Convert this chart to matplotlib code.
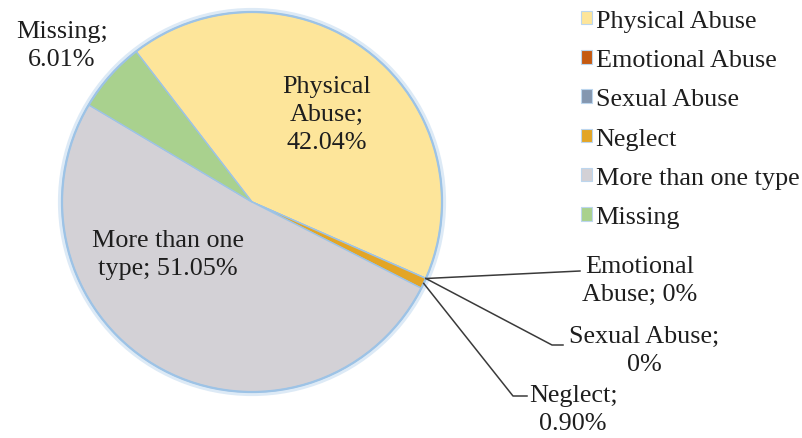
import numpy as np
import matplotlib
matplotlib.use('Agg')
from matplotlib import pyplot as plt
from matplotlib.patches import Circle

plt.rcParams['font.family'] = ['Liberation Serif', 'DejaVu Serif']

# data
categories = ['Physical Abuse', 'Emotional Abuse', 'Sexual Abuse', 'Neglect',
              'More than one type', 'Missing']
percents = [42.04, 0.0, 0.0, 0.90, 51.05, 6.01]
colors = ['#fde59a', '#c55a11', '#8497b0', '#e3a526', '#d3d1d6', '#a9d18e']

W, H = 802, 439
TXT = '#1e1e1e'


def py(y):
    # pixel row (top down) -> data y
    return H - y


def pct(v):
    if v == 0:
        return '0%'
    return '%.2f%%' % v


fig = plt.figure(figsize=(W / 100, H / 100), dpi=100)
ax = fig.add_axes([0, 0, 1, 1])

cx, cy, r = 252, py(203), 190
wedges, _ = ax.pie(percents, colors=colors, startangle=127.6, counterclock=False,
                   center=(cx, cy), radius=r, frame=True,
                   wedgeprops=dict(edgecolor='#9dc3e6', linewidth=1.0))
ax.add_patch(Circle((cx, cy), r + 2, fill=False, ec='#ddeaf6', lw=3, zorder=0))
ax.add_patch(Circle((cx, cy), r, fill=False, ec='#9dc3e6', lw=1.6, zorder=3))

fs = 18.8
ls = 1.38
# labels inside / beside the big slices
ax.text(327, py(115), 'Physical\nAbuse;\n' + pct(percents[0]), ha='center', va='center',
        fontsize=fs, color=TXT, linespacing=ls)
ax.text(168, py(255), 'More than one\ntype; ' + pct(percents[4]), ha='center', va='center',
        fontsize=fs, color=TXT, linespacing=ls)
ax.text(62, py(46), 'Missing;\n' + pct(percents[5]), ha='center', va='center',
        fontsize=fs, color=TXT, linespacing=ls)


# leader lines for the tiny slices
def edge_point(w):
    th = np.deg2rad((w.theta1 + w.theta2) / 2)
    return cx + r * np.cos(th), cy + r * np.sin(th)


leaders = [
    (1, [(580, 272)], (640, 281), 'Emotional\nAbuse; ' + pct(percents[1])),
    (2, [(552, 346), (563, 346)], (644, 351), 'Sexual Abuse;\n' + pct(percents[2])),
    (3, [(513, 397), (527, 397)], (573, 410), 'Neglect;\n' + pct(percents[3])),
]
for i, pts, tpos, lab in leaders:
    x0, y0 = edge_point(wedges[i])
    xs = [x0] + [p[0] for p in pts]
    ys = [y0] + [py(p[1]) for p in pts]
    ax.plot(xs, ys, color='#3a3a3a', lw=1.1, zorder=4)
    ax.text(tpos[0], py(tpos[1]), lab, ha='center', va='center',
            fontsize=fs, color=TXT, linespacing=ls)

leg = ax.legend(wedges, categories, loc='upper left', bbox_to_anchor=(581 / W, 1 - 11 / H),
                frameon=False, fontsize=fs, handlelength=0.42, handleheight=0.42,
                handletextpad=0.14, labelspacing=0.66, borderaxespad=0, borderpad=0)
for t in leg.get_texts():
    t.set_color(TXT)
for h in leg.legend_handles:
    h.set_edgecolor('#bcd6ee')
    h.set_linewidth(0.8)

ax.set_xlim(0, W)
ax.set_ylim(0, H)
ax.set_aspect('auto')
ax.axis('off')

plt.savefig('out.png', dpi=100)
